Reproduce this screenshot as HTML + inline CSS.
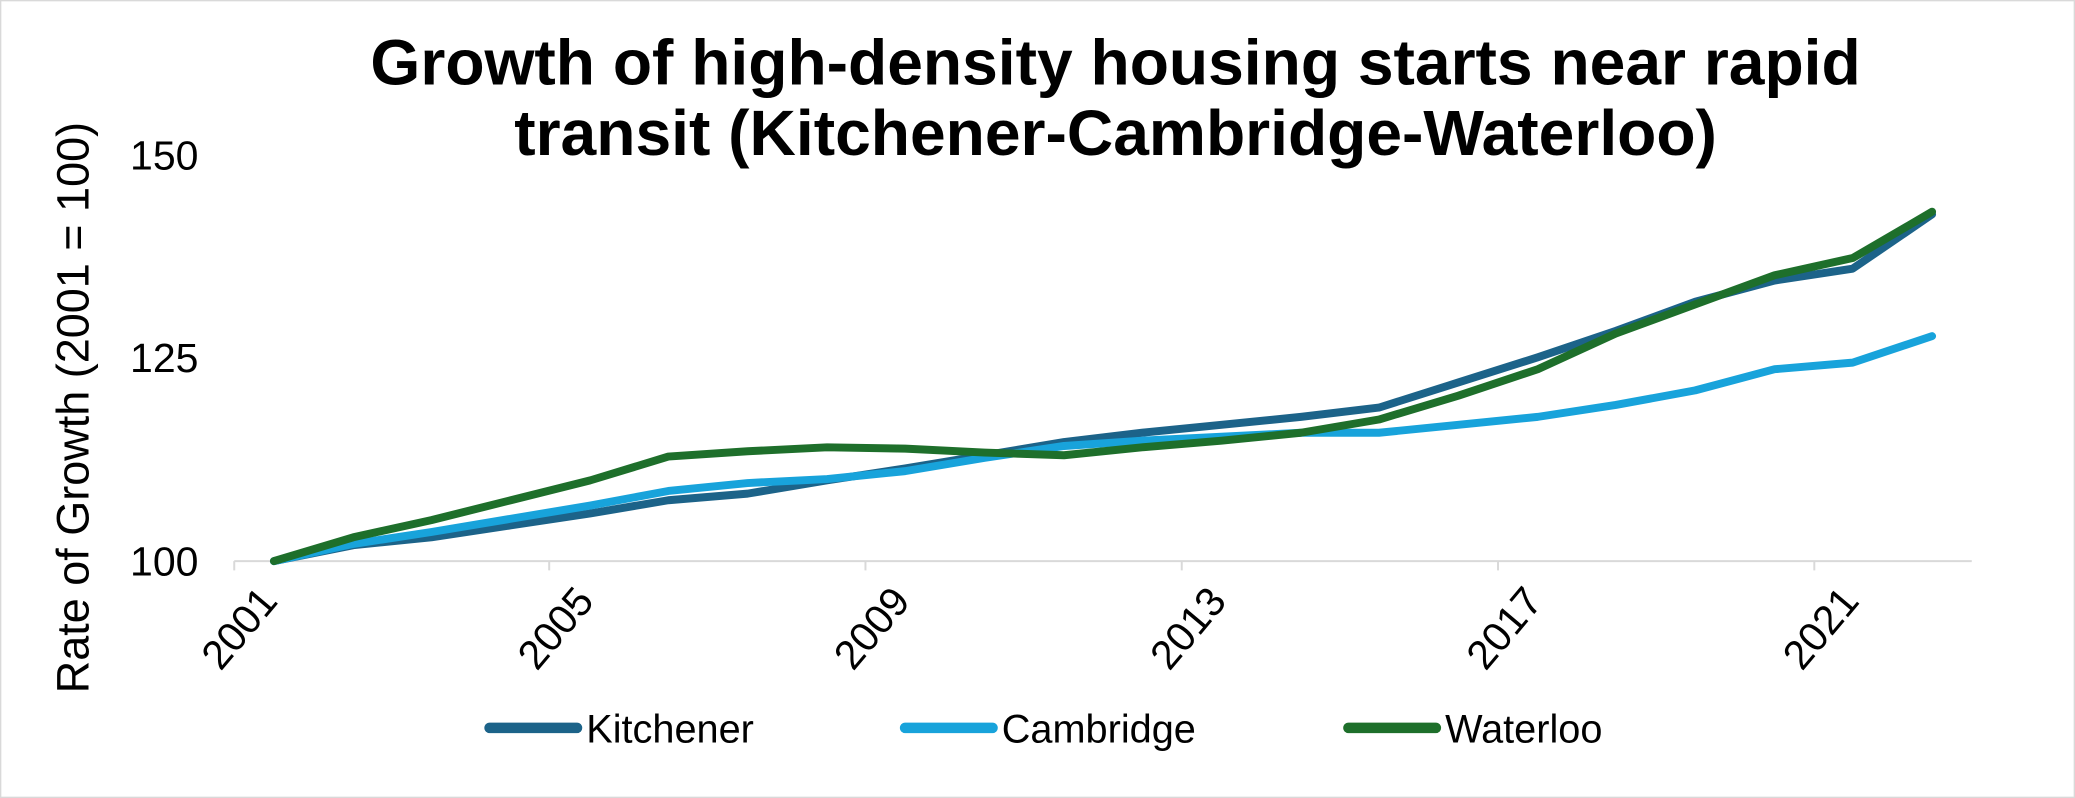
<!DOCTYPE html>
<html><head><meta charset="utf-8"><style>
html,body{margin:0;padding:0;background:#fff}
svg{display:block}
text{font-family:"Liberation Sans",Arial,sans-serif;fill:#000}
</style></head><body>
<svg width="2075" height="798" viewBox="0 0 1568 603" preserveAspectRatio="none">
<rect x="0.5" y="0.5" width="1567" height="602" fill="#fff" stroke="#d9d9d9" stroke-width="1"/>
<text x="843" y="64" text-anchor="middle" font-size="48.5" font-weight="bold">Growth of high-density housing starts near rapid</text>
<text x="843" y="117" text-anchor="middle" font-size="48.5" font-weight="bold">transit (Kitchener-Cambridge-Waterloo)</text>
<text transform="translate(67,308) rotate(-90)" text-anchor="middle" font-size="34">Rate of Growth (2001 = 100)</text>
<g font-size="31" text-anchor="end">
<text x="150" y="128">150</text>
<text x="150" y="281">125</text>
<text x="150" y="435">100</text>
</g>
<line x1="177" y1="424" x2="1490" y2="424" stroke="#d9d9d9" stroke-width="1.5"/>
<g stroke="#d9d9d9" stroke-width="1.5">
<line x1="177" y1="424" x2="177" y2="431"/><line x1="415" y1="424" x2="415" y2="431"/><line x1="654" y1="424" x2="654" y2="431"/><line x1="893" y1="424" x2="893" y2="431"/><line x1="1132" y1="424" x2="1132" y2="431"/><line x1="1371" y1="424" x2="1371" y2="431"/>
</g>
<g font-size="31" text-anchor="end">
<text transform="translate(211,455) rotate(-50)">2001</text>
<text transform="translate(450,455) rotate(-50)">2005</text>
<text transform="translate(689,455) rotate(-50)">2009</text>
<text transform="translate(928,455) rotate(-50)">2013</text>
<text transform="translate(1167,455) rotate(-50)">2017</text>
<text transform="translate(1406,455) rotate(-50)">2021</text>
</g>
<g fill="none" stroke-width="6" stroke-linejoin="round" stroke-linecap="round">
<polyline stroke="#1c6389" points="207,424 267,412 326,406 386,397 446,388 505,378 565,373 625,363 684,354 744,344 804,334 863,327 923,321 983,315 1042,308 1102,289 1162,270 1221,250 1281,228 1341,212 1400,203 1460,162"/>
<polyline stroke="#18a3db" points="207,424 267,411 326,402 386,392 446,382 505,371 565,365 625,362 684,356 744,346 804,337 863,333 923,330 983,327 1042,327 1102,321 1162,315 1221,306 1281,295 1341,279 1400,274 1460,254"/>
<polyline stroke="#1e6f2b" points="207,424 267,406 326,393 386,378 446,363 505,345 565,341 625,338 684,339 744,342 804,344 863,338 923,333 983,327 1042,317 1102,299 1162,279 1221,252 1281,230 1341,208 1400,195 1460,160"/>
</g>
<g stroke-width="8" stroke-linecap="round">
<line x1="370" y1="550" x2="436" y2="550" stroke="#1c6389"/>
<line x1="684" y1="550" x2="750" y2="550" stroke="#18a3db"/>
<line x1="1019" y1="550" x2="1085" y2="550" stroke="#1e6f2b"/>
</g>
<g font-size="30">
<text x="443" y="561">Kitchener</text>
<text x="757" y="561">Cambridge</text>
<text x="1092" y="561">Waterloo</text>
</g>
</svg>
</body></html>
